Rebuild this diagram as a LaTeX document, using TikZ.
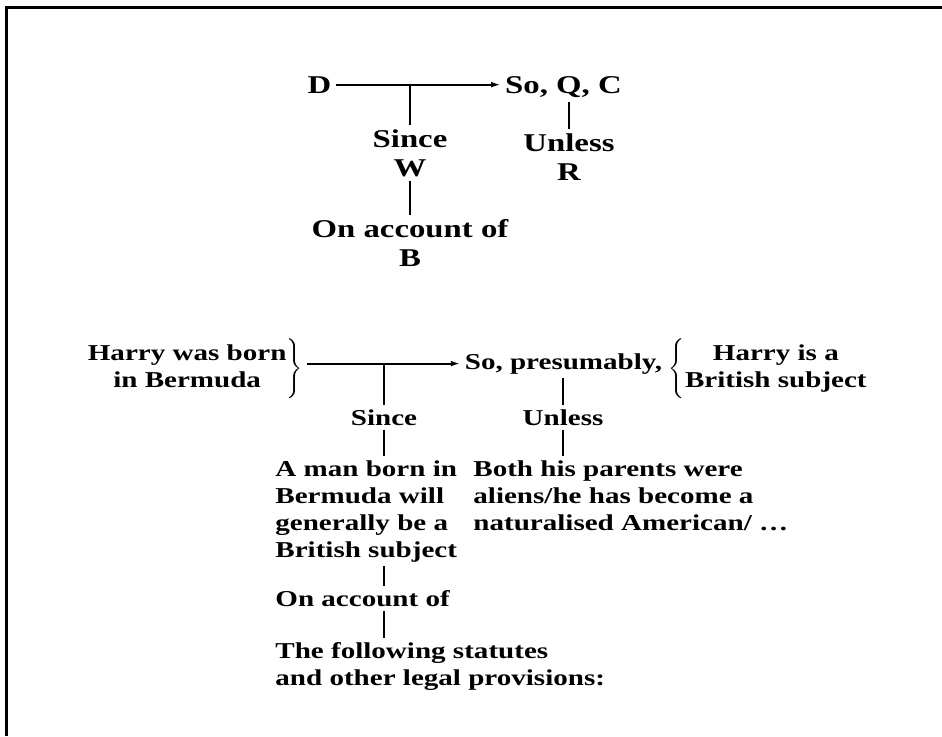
\documentclass[tikz,border=0pt]{standalone}
\usepackage{fontspec}
\setmainfont{Liberation Serif}[FakeStretch=1.28]
\usepackage{tikz}
\usetikzlibrary{arrows.meta}

\begin{document}
\begin{tikzpicture}[
  x=0.5pt,y=0.5pt,
  txt/.style={font=\fontsize{12.8}{14.5}\selectfont\bfseries,inner sep=2pt,align=center},
  txtb/.style={font=\fontsize{11.35}{13.5}\selectfont\bfseries,inner sep=2pt},
  ar/.style={-{Latex[length=4.8pt,width=2.8pt]},line width=1pt},
  tk/.style={line width=1pt}
]
\useasboundingbox (0,0) rectangle (942,-736);
% ---- frame
\draw[line width=1.2pt] (942,-7.5) -- (6.5,-7.5) -- (6.5,-736);

% ---- general scheme
\node[txt,anchor=base] (D)    at (319.5,-93) {D};
\node[txt,anchor=base] (soqc) at (563.5,-93) {So, Q, C};
\node[txt] (sinceW) at (410,-153) {Since\\W};
\node[txt] (onB)    at (410,-243) {On account of\\B};
\node[txt] (unlR)   at (569,-157) {Unless\\R};

\draw[ar] (D.east) -- (D.east -| soqc.west);
\draw[tk] (sinceW.north |- D.east) -- (sinceW.north);
\draw[tk] (sinceW) -- (onB);
\draw[tk] (unlR.north |- soqc.south) -- (unlR.north);

% ---- example
\node[txtb] (harry) at (194,-369)
  {$\left.\begin{tabular}{@{}c@{}}Harry was born\\ in Bermuda\end{tabular}\right\}$};
\node[txtb,anchor=base] (presum) at (563.5,-369) {So, presumably,};
\node[txtb] (brit) at (769,-369)
  {$\left\{\begin{tabular}{@{}c@{}}Harry is a\\ British subject\end{tabular}\right.$};
\node[txtb,anchor=base] (since2) at (384,-425) {Since};
\node[txtb,anchor=base] (unl2)   at (563,-425) {Unless};
\node[txtb,align=left,anchor=north west] (warr) at (271,-456)
  {A man born in\\ Bermuda will\\ generally be a\\ British subject};
\node[txtb,align=left,anchor=north west] (reb) at (469,-456)
  {Both his parents were\\ aliens/he has become a\\ naturalised American/ \ldots};
\node[txtb,anchor=base west] (onacc) at (271,-606) {On account of};
\node[txtb,align=left,anchor=north west] (bkg) at (271,-638)
  {The following statutes\\ and other legal provisions:};

\draw[ar] (presum.west -| harry.east) -- (presum.west);
\draw[tk] (since2.north |- presum.west) -- (since2.north);
\draw[tk] (unl2.north |- presum.south) -- (unl2.north);
\draw[tk] (since2.south) -- (since2.south |- warr.north);
\draw[tk] (unl2.south) -- (unl2.south |- reb.north);
\draw[tk] (since2 |- warr.south) -- (since2 |- onacc.north);
\draw[tk] (since2 |- onacc.south) -- (since2 |- bkg.north);
\end{tikzpicture}
\end{document}
